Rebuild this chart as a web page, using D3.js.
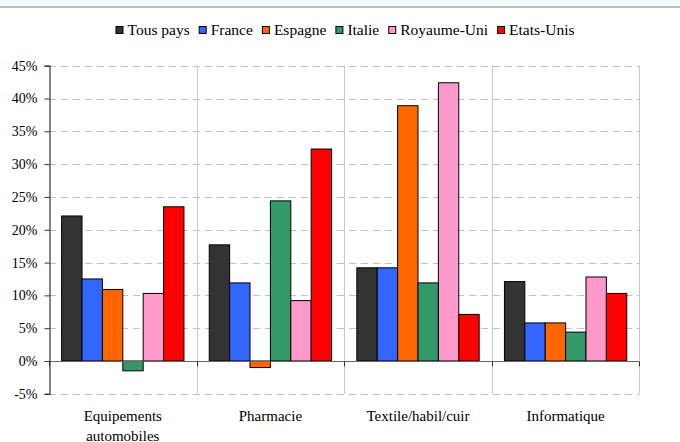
<!DOCTYPE html>
<html>
<head>
<meta charset="utf-8">
<script src="https://cdn.jsdelivr.net/npm/d3@7/dist/d3.min.js"></script>
<style>
  html, body { margin: 0; padding: 0; background: #fff; }
  svg { display: block; }
</style>
</head>
<body>
<svg id="chart" width="680" height="442"></svg>
<script>
// Sectors (the first entry wraps onto two lines)
const categories = [["Equipements", "automobiles"], ["Pharmacie"], ["Textile/habil/cuir"], ["Informatique"]];
const seriesNames = ["Tous pays", "France", "Espagne", "Italie", "Royaume-Uni", "Etats-Unis"];
const seriesColors = ["#333333", "#3366ff", "#ff6600", "#339966", "#ff99cc", "#ff0000"];

// Values in %, one array per series, in category order
const tousPays   = [22.1, 17.7, 14.2, 12.1];
const france     = [12.5, 11.9, 14.2, 5.8];
const espagne    = [10.9, -1.0, 38.9, 5.8];
const italie     = [-1.5, 24.4, 11.9, 4.4];
const royaumeUni = [10.3, 9.2, 42.4, 12.8];
const etatsUnis  = [23.5, 32.3, 7.1, 10.3];
const seriesValues = [tousPays, france, espagne, italie, royaumeUni, etatsUnis];

const yTicks = [-5, 0, 5, 10, 15, 20, 25, 30, 35, 40, 45];

const FONT = "'Times New Roman', 'Liberation Serif', Times";

function draw() {
  const svg = d3.select("#chart");
  svg.selectAll("*").remove();
  const W = 680;

  // Light band and rule along the top edge
  svg.append("rect").attr("x", 0).attr("y", 0).attr("width", W).attr("height", 6).attr("fill", "#f0ffff");
  svg.append("rect").attr("x", 0).attr("y", 6).attr("width", W).attr("height", 2).attr("fill", "#bfbfbf");

  const plot = { left: 49, right: 639.4, top: 65.7, bottom: 393.8 };

  const x = d3.scaleBand()
    .domain(d3.range(categories.length))
    .range([plot.left, plot.right])
    .paddingInner(0).paddingOuter(0);

  const xInner = d3.scaleBand()
    .domain(d3.range(seriesNames.length))
    .range([0, x.bandwidth()])
    .paddingInner(0)
    .paddingOuter(0.62);

  const y = d3.scaleLinear().domain([-5, 45]).range([plot.bottom, plot.top]);

  // Horizontal dashed grid
  svg.append("g")
    .selectAll("line")
    .data(yTicks.filter(t => t !== 0))
    .join("line")
    .attr("x1", plot.left).attr("x2", plot.right)
    .attr("y1", d => Math.round(y(d)) + 0.5).attr("y2", d => Math.round(y(d)) + 0.5)
    .attr("stroke", "#c0c0c0").attr("stroke-width", 1)
    .attr("stroke-dasharray", "7,5");

  // Vertical separators between sectors
  svg.append("g")
    .selectAll("line")
    .data(d3.range(1, categories.length + 1))
    .join("line")
    .attr("x1", d => Math.round(x(d - 1) + x.bandwidth()) + 0.5)
    .attr("x2", d => Math.round(x(d - 1) + x.bandwidth()) + 0.5)
    .attr("y1", plot.top).attr("y2", plot.bottom)
    .attr("stroke", "#c8c8c8").attr("stroke-width", 1);

  // Bars
  const groups = svg.append("g")
    .selectAll("g")
    .data(categories.map((c, i) => i))
    .join("g")
    .attr("transform", i => `translate(${x(i)},0)`);

  groups.selectAll("rect")
    .data(i => seriesValues.map((vals, s) => ({ s, v: vals[i] })))
    .join("rect")
    .attr("x", d => xInner(d.s))
    .attr("width", xInner.bandwidth())
    .attr("y", d => y(Math.max(0, d.v)))
    .attr("height", d => Math.abs(y(d.v) - y(0)))
    .attr("fill", d => seriesColors[d.s])
    .attr("stroke", "#000")
    .attr("stroke-width", 1);

  // Zero line with ticks at sector boundaries
  const zeroY = Math.round(y(0)) + 0.5;
  svg.append("line")
    .attr("x1", plot.left).attr("x2", plot.right)
    .attr("y1", zeroY).attr("y2", zeroY)
    .attr("stroke", "#666").attr("stroke-width", 1.2);
  svg.append("g")
    .selectAll("line")
    .data(d3.range(0, categories.length + 1))
    .join("line")
    .attr("x1", d => Math.round(d === categories.length ? plot.right : x(d)) + 0.5)
    .attr("x2", d => Math.round(d === categories.length ? plot.right : x(d)) + 0.5)
    .attr("y1", zeroY).attr("y2", zeroY + 5)
    .attr("stroke", "#333").attr("stroke-width", 1);

  // Y axis
  const yAxis = d3.axisLeft(y)
    .tickValues(yTicks)
    .tickSize(5)
    .tickPadding(7)
    .tickFormat(d => d + "%");
  const gy = svg.append("g")
    .attr("transform", `translate(${plot.left + 0.5},0)`)
    .call(yAxis)
    .attr("font-family", FONT)
    .attr("font-size", 14);
  gy.select(".domain").attr("stroke", "#333").attr("stroke-width", 1.2);
  gy.selectAll(".tick line").attr("stroke", "#333");
  gy.selectAll(".tick text")
    .style("font-family", FONT)
    .style("font-size", "14px")
    .attr("fill", "#000");

  // Sector labels
  const catLabels = svg.append("g");
  categories.forEach((lines, i) => {
    const t = catLabels.append("text")
      .attr("text-anchor", "middle")
      .style("font-family", FONT)
      .style("font-size", "15px")
      .attr("fill", "#000");
    lines.forEach((ln, k) => {
      t.append("tspan")
        .attr("x", x(i) + x.bandwidth() / 2)
        .attr("y", 421 + k * 19.5)
        .text(ln);
    });
  });

  // Legend: swatch + label, items laid out left to right and centred
  const legend = svg.append("g");
  const items = seriesNames.map((name, s) => {
    const g = legend.append("g");
    g.append("rect")
      .attr("x", 0.5).attr("y", 26.5)
      .attr("width", 7).attr("height", 7)
      .attr("fill", seriesColors[s])
      .attr("stroke", "#000").attr("stroke-width", 1);
    g.append("text")
      .attr("x", 12).attr("y", 35)
      .style("font-family", FONT)
      .style("font-size", "15.5px")
      .attr("fill", "#000")
      .text(name);
    return g;
  });
  let cursor = 0;
  items.forEach(g => {
    const w = 12 + g.select("text").node().getComputedTextLength();
    g.attr("transform", `translate(${cursor},0)`);
    cursor += w + 9;
  });
  const legendWidth = cursor - 9;
  legend.attr("transform", `translate(${345 - legendWidth / 2},0)`);
}

draw();
if (document.fonts && document.fonts.load) {
  Promise.all([
    document.fonts.load("15px 'Times New Roman'"),
    document.fonts.load("15px 'Liberation Serif'")
  ]).then(draw, draw);
}
</script>
</body>
</html>
